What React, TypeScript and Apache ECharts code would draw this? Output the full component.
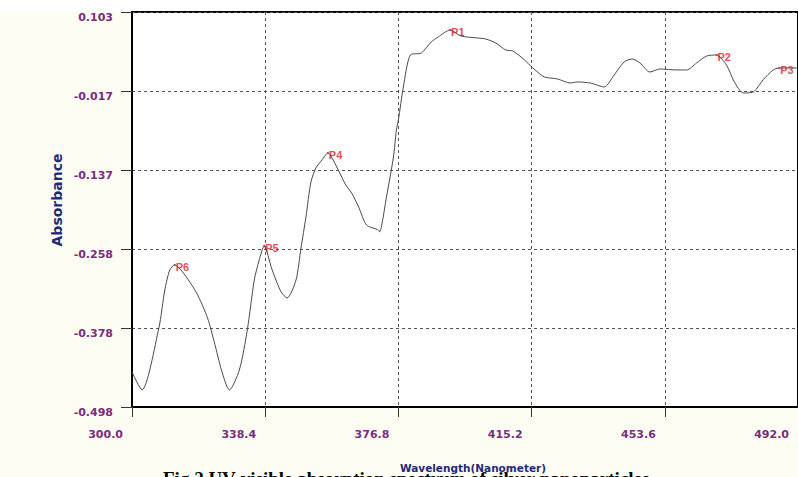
import React, { useEffect, useRef } from "react";
import * as echarts from "echarts";

// Wavelength (nm) and absorbance
const wavelength = [
  300.0, 302.87, 307.74, 309.46, 310.89, 312.32, 314.61, 318.63, 321.78, 323.79,
  325.79, 328.08, 330.95, 333.24, 335.25, 336.68, 338.11, 340.41, 342.99, 344.71,
  347.28, 348.72, 350.15, 351.58, 353.01, 354.73, 356.45, 359.03, 361.61, 363.33,
  365.34, 367.63, 371.07, 371.36, 373.36, 375.37, 376.23, 376.8, 378.23, 380.24,
  383.39, 386.26, 388.26, 391.7, 394.85, 399.72, 402.02, 404.88, 407.75, 409.76,
  413.19, 414.91, 416.92, 418.93, 422.65, 426.38, 428.38, 432.11, 436.12, 438.99,
  441.85, 444.14, 446.44, 449.3, 452.17, 457.04, 459.9, 462.77, 465.64, 468.5,
  471.37, 473.66, 476.24, 479.1, 481.97, 484.84, 486.56, 490.85, 492.0,
];
const absorbance = [
  -0.4447, -0.4721, -0.3778, -0.32, -0.2895, -0.2819, -0.2926, -0.3245, -0.3626, -0.4006,
  -0.4417, -0.4721, -0.4417, -0.3808, -0.3048, -0.2743, -0.253, -0.2895, -0.323, -0.3321,
  -0.3048, -0.2561, -0.2089, -0.1557, -0.1344, -0.1222, -0.1115, -0.1328, -0.1602, -0.1724,
  -0.1937, -0.2211, -0.2287, -0.2317, -0.1785, -0.1176, -0.0765, -0.0613, -0.0111, 0.0376,
  0.0406, 0.0574, 0.065, 0.0756, 0.0665, 0.0634, 0.0619, 0.0558, 0.0452, 0.0437,
  0.03, 0.0208, 0.0117, 0.0041, 0.0011, -0.005, -0.0035, -0.005, -0.0111, 0.0071,
  0.0269, 0.0315, 0.0254, 0.0117, 0.0163, 0.0148, 0.0148, 0.0254, 0.036, 0.0376,
  0.0224, -0.0035, -0.0202, -0.0187, 0.0, 0.0148, 0.0178, 0.0178, 0.0178,
];

const peakNames = ["P1", "P2", "P3", "P4", "P5", "P6"];
const peakWavelength = [391.7, 468.5, 486.56, 356.45, 338.11, 312.32];
const peakAbsorbance = [0.0756, 0.0376, 0.0178, -0.1115, -0.253, -0.2819];

const xMin = 300.0;
const xMax = 492.0;
const xStep = 38.4;
const yMin = -0.498;
const yMax = 0.103;
const yStep = 0.1202;

const xTitle = "Wavelength(Nanometer)";
const yTitle = "Absorbance";
const caption = "Fig.2 UV-visible absorption spectrum of silver nanoparticles";

export default function App() {
  const ref = useRef<HTMLDivElement>(null);

  useEffect(() => {
    if (!ref.current) return;
    const chart = echarts.init(ref.current, null, { renderer: "svg" });
    const purple = "#7a2c80";
    const navy = "#1f2a7a";
    const tickFont = "DejaVu Sans, Verdana, sans-serif";
    chart.setOption({
      animation: false,
      backgroundColor: "#fdfdf3",
      grid: {
        left: 132,
        top: 12,
        width: 670,
        height: 395,
        show: true,
        backgroundColor: "#ffffff",
        borderColor: "#000000",
        borderWidth: 2,
      },
      xAxis: {
        type: "value",
        min: xMin,
        max: xMax,
        interval: xStep,
        axisLine: { show: true, onZero: false, lineStyle: { color: "#000", width: 2 } },
        axisTick: { show: true, inside: false, length: 10, lineStyle: { color: "#333", width: 1 } },
        axisLabel: {
          show: true,
          margin: 22,
          align: "right",
          verticalAlign: "top",
          padding: [0, 9, 0, 0],
          color: purple,
          fontFamily: tickFont,
          fontWeight: "bold",
          fontSize: 11,
          formatter: (v: number) => v.toFixed(1),
        },
        splitLine: { show: true, lineStyle: { color: "#555", width: 1, type: [3, 3] } },
      },
      yAxis: {
        type: "value",
        min: yMin,
        max: yMax,
        interval: yStep,
        axisLine: { show: true, onZero: false, lineStyle: { color: "#000", width: 2 } },
        axisTick: { show: true, inside: false, length: 11, lineStyle: { color: "#333", width: 1 } },
        axisLabel: {
          show: true,
          margin: 19,
          verticalAlign: "top",
          color: purple,
          fontFamily: tickFont,
          fontWeight: "bold",
          fontSize: 11,
          formatter: (v: number) => v.toFixed(3),
        },
        splitLine: { show: true, lineStyle: { color: "#555", width: 1, type: [3, 3] } },
      },
      series: [
        {
          type: "line",
          data: wavelength.map((w, i) => [w, absorbance[i]]),
          symbol: "none",
          smooth: 0.25,
          lineStyle: { color: "#4a4a4a", width: 1 },
          silent: true,
        },
        {
          type: "scatter",
          data: peakNames.map((n, i) => ({ name: n, value: [peakWavelength[i], peakAbsorbance[i]] })),
          symbolSize: 2,
          itemStyle: { color: "#e0202a" },
          label: {
            show: true,
            position: "right",
            distance: 0,
            formatter: "{b}",
            color: "#e0202a",
            fontFamily: "Arial, Liberation Sans, sans-serif",
            fontWeight: "bold",
            fontSize: 11,
            offset: [0, 2],
          },
          silent: true,
        },
      ],
      graphic: [
        { type: "rect", shape: { x: 0, y: 0, width: 798, height: 11 }, style: { fill: "#ffffff" }, silent: true },
        {
          type: "text",
          x: 57,
          y: 200,
          rotation: Math.PI / 2,
          style: {
            text: yTitle,
            fill: navy,
            font: "bold 14px DejaVu Sans, Verdana, sans-serif",
            textAlign: "center",
            textVerticalAlign: "middle",
          },
        },
        {
          type: "text",
          x: 473,
          y: 468,
          style: {
            text: xTitle,
            fill: navy,
            font: "bold 10.5px DejaVu Sans, Verdana, sans-serif",
            textAlign: "center",
            textVerticalAlign: "middle",
          },
        },
        {
          type: "text",
          x: 163,
          y: 469,
          style: {
            text: caption,
            fill: "#000",
            font: "bold 19px Liberation Serif, Times New Roman, serif",
            textAlign: "left",
            textVerticalAlign: "top",
          },
        },
      ],
    });
    return () => chart.dispose();
  }, []);

  return (
    <div
      ref={ref}
      style={{ position: "absolute", left: 0, top: 0, width: 798, height: 477 }}
    />
  );
}
